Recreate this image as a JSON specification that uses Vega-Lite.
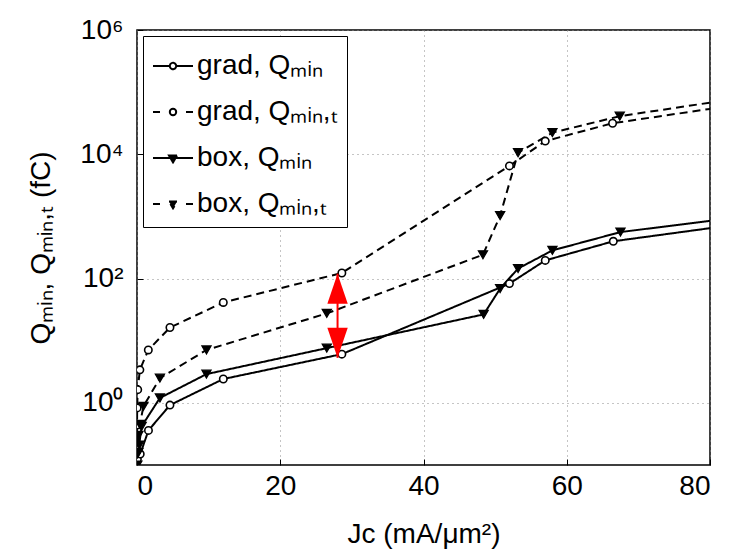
{
  "$schema": "https://vega.github.io/schema/vega-lite/v6.json",
  "width": 573,
  "height": 435,
  "autosize": {"type": "none"},
  "padding": {"left": 137, "top": 30, "right": 28, "bottom": 91},
  "config": {
    "font": "Liberation Sans",
    "view": {"stroke": "black", "strokeWidth": 1.5},
    "axis": {
      "labelFontSize": 28, "labelColor": "black", "labelFont": "Liberation Sans",
      "titleFontSize": 28, "titleFontWeight": "normal", "titleColor": "black", "titleFont": "Liberation Sans",
      "domain": false, "tickColor": "black", "tickSize": -6, "tickWidth": 1,
      "grid": true, "gridColor": "#8a8a8a", "gridDash": [1, 4], "gridWidth": 1
    }
  },
  "datasets": {
    "series": [
      {"s": "grad, Qₘᵢₙ", "k": "grad", "x": 0.0, "y": 0.09},
      {"s": "grad, Qₘᵢₙ", "k": "grad", "x": 0.05, "y": 0.124},
      {"s": "grad, Qₘᵢₙ", "k": "grad", "x": 0.45, "y": 0.15},
      {"s": "grad, Qₘᵢₙ", "k": "grad", "x": 1.6, "y": 0.36},
      {"s": "grad, Qₘᵢₙ", "k": "grad", "x": 4.6, "y": 0.92},
      {"s": "grad, Qₘᵢₙ", "k": "grad", "x": 12.05, "y": 2.42},
      {"s": "grad, Qₘᵢₙ", "k": "grad", "x": 28.6, "y": 6.08},
      {"s": "grad, Qₘᵢₙ", "k": "grad", "x": 52.0, "y": 83},
      {"s": "grad, Qₘᵢₙ", "k": "grad", "x": 57.0, "y": 196},
      {"s": "grad, Qₘᵢₙ", "k": "grad", "x": 66.5, "y": 398},
      {"s": "grad, Qₘᵢₙ", "k": "grad", "x": 90.0, "y": 927},
      {"s": "grad, Qₘᵢₙ,ₜ", "k": "grad", "x": 0.0, "y": 0.21},
      {"s": "grad, Qₘᵢₙ,ₜ", "k": "grad", "x": 0.01, "y": 0.44},
      {"s": "grad, Qₘᵢₙ,ₜ", "k": "grad", "x": 0.02, "y": 0.83},
      {"s": "grad, Qₘᵢₙ,ₜ", "k": "grad", "x": 0.1, "y": 1.63},
      {"s": "grad, Qₘᵢₙ,ₜ", "k": "grad", "x": 0.4, "y": 3.4},
      {"s": "grad, Qₘᵢₙ,ₜ", "k": "grad", "x": 1.58, "y": 7.1},
      {"s": "grad, Qₘᵢₙ,ₜ", "k": "grad", "x": 4.6, "y": 16.3},
      {"s": "grad, Qₘᵢₙ,ₜ", "k": "grad", "x": 12.05, "y": 41.3},
      {"s": "grad, Qₘᵢₙ,ₜ", "k": "grad", "x": 28.6, "y": 123},
      {"s": "grad, Qₘᵢₙ,ₜ", "k": "grad", "x": 52.0, "y": 6500},
      {"s": "grad, Qₘᵢₙ,ₜ", "k": "grad", "x": 57.0, "y": 16300},
      {"s": "grad, Qₘᵢₙ,ₜ", "k": "grad", "x": 66.4, "y": 31600},
      {"s": "grad, Qₘᵢₙ,ₜ", "k": "grad", "x": 90.0, "y": 79400},
      {"s": "box, Qₘᵢₙ", "k": "box", "x": 0.05, "y": 0.1},
      {"s": "box, Qₘᵢₙ", "k": "box", "x": 0.2, "y": 0.16},
      {"s": "box, Qₘᵢₙ", "k": "box", "x": 0.3, "y": 0.21},
      {"s": "box, Qₘᵢₙ", "k": "box", "x": 0.65, "y": 0.42},
      {"s": "box, Qₘᵢₙ", "k": "box", "x": 3.2, "y": 1.2},
      {"s": "box, Qₘᵢₙ", "k": "box", "x": 9.7, "y": 2.9},
      {"s": "box, Qₘᵢₙ", "k": "box", "x": 26.5, "y": 7.6},
      {"s": "box, Qₘᵢₙ", "k": "box", "x": 48.4, "y": 26.5},
      {"s": "box, Qₘᵢₙ", "k": "box", "x": 50.7, "y": 69},
      {"s": "box, Qₘᵢₙ", "k": "box", "x": 53.2, "y": 145},
      {"s": "box, Qₘᵢₙ", "k": "box", "x": 58.0, "y": 284},
      {"s": "box, Qₘᵢₙ", "k": "box", "x": 67.5, "y": 560},
      {"s": "box, Qₘᵢₙ", "k": "box", "x": 90.0, "y": 1186},
      {"s": "box, Qₘᵢₙ,ₜ", "k": "box", "x": 0.05, "y": 0.15},
      {"s": "box, Qₘᵢₙ,ₜ", "k": "box", "x": 0.2, "y": 0.3},
      {"s": "box, Qₘᵢₙ,ₜ", "k": "box", "x": 0.4, "y": 0.45},
      {"s": "box, Qₘᵢₙ,ₜ", "k": "box", "x": 0.9, "y": 0.88},
      {"s": "box, Qₘᵢₙ,ₜ", "k": "box", "x": 3.2, "y": 2.5},
      {"s": "box, Qₘᵢₙ,ₜ", "k": "box", "x": 9.7, "y": 7.1},
      {"s": "box, Qₘᵢₙ,ₜ", "k": "box", "x": 26.5, "y": 27.5},
      {"s": "box, Qₘᵢₙ,ₜ", "k": "box", "x": 48.3, "y": 242},
      {"s": "box, Qₘᵢₙ,ₜ", "k": "box", "x": 50.7, "y": 1030},
      {"s": "box, Qₘᵢₙ,ₜ", "k": "box", "x": 53.2, "y": 10600},
      {"s": "box, Qₘᵢₙ,ₜ", "k": "box", "x": 58.0, "y": 22300},
      {"s": "box, Qₘᵢₙ,ₜ", "k": "box", "x": 67.4, "y": 41000},
      {"s": "box, Qₘᵢₙ,ₜ", "k": "box", "x": 90.0, "y": 101000}
    ],
    "arrow": [
      {"x": 28.0, "top": 120, "bottom": 5.3}
    ],
    "threshold": [
      {"y": 37.4}
    ]
  },
  "encoding": {
    "x": {
      "field": "x", "type": "quantitative",
      "scale": {"domain": [0, 80], "nice": false},
      "axis": {"values": [0, 20, 40, 60, 80], "title": "Jᴄ (mA/μm²)", "labelPadding": 13, "titlePadding": 20}
    }
  },
  "layer": [
    {
      "data": {"name": "series"},
      "mark": {"type": "line", "clip": true, "strokeWidth": 2, "color": "black"},
      "encoding": {
        "y": {
          "field": "y", "type": "quantitative",
          "scale": {"type": "log", "domain": [0.1, 1000000], "nice": false},
          "axis": {
            "values": [1, 100, 10000, 1000000],
            "labelExpr": "datum.value == 1 ? '10⁰' : datum.value == 100 ? '10²' : datum.value == 10000 ? '10⁴' : '10⁶'",
            "title": "Qₘᵢₙ, Qₘᵢₙ,ₜ (fC)", "labelPadding": 20, "titlePadding": 24
          }
        },
        "strokeDash": {
          "field": "s", "type": "nominal",
          "scale": {"domain": ["grad, Qₘᵢₙ", "grad, Qₘᵢₙ,ₜ", "box, Qₘᵢₙ", "box, Qₘᵢₙ,ₜ"], "range": [[1, 0], [8, 5], [1, 0], [8, 5]]},
          "legend": {
            "title": null, "orient": "top-left", "offset": 6, "padding": 9,
            "fillColor": "white", "strokeColor": "black",
            "symbolSize": 1600, "symbolStrokeWidth": 2, "symbolStrokeColor": "black",
            "labelFontSize": 28, "labelFont": "Liberation Sans", "labelColor": "black",
            "rowPadding": 11, "labelOffset": 3, "labelLimit": 400,
            "encode": {
              "symbols": {
                "update": {
                  "shape": {"signal": "indexof(datum.value, 'grad') >= 0 ? (indexof(datum.value, ',ₜ') >= 0 ? 'M-1,0H-0.65M0.65,0H1M0.16,0A0.16,0.16,0,0,1,0,0.16M0,0.16A0.16,0.16,0,0,1,-0.16,0M-0.16,0A0.16,0.16,0,0,1,0,-0.16M0,-0.16A0.16,0.16,0,0,1,0.16,0' : 'M-1,0H-0.16M0.16,0H1M0.16,0A0.16,0.16,0,1,1,-0.16,0A0.16,0.16,0,1,1,0.16,0') : (indexof(datum.value, ',ₜ') >= 0 ? 'M-1,0H-0.65M0.65,0H1M-0.2,-0.12L0.2,-0.12L0,0.22Z' : 'M-1,0H1M-0.2,-0.12L0.2,-0.12L0,0.22Z')"},
                  "fill": {"signal": "indexof(datum.value, 'grad') >= 0 ? 'white' : 'black'"},
                  "stroke": {"value": "black"},
                  "strokeWidth": {"value": 2},
                  "opacity": {"value": 1}
                }
              }
            }
          }
        }
      }
    },
    {
      "data": {"name": "series"},
      "transform": [{"filter": {"field": "k", "equal": "grad"}}],
      "mark": {"type": "point", "clip": true, "shape": "circle", "size": 55, "stroke": "black", "fill": "white", "strokeWidth": 1.6, "opacity": 1, "filled": false},
      "encoding": {"y": {"field": "y", "type": "quantitative"}}
    },
    {
      "data": {"name": "series"},
      "transform": [{"filter": {"field": "k", "equal": "box"}}],
      "mark": {"type": "point", "clip": true, "shape": "triangle-down", "size": 85, "stroke": "black", "fill": "black", "strokeWidth": 1.2, "opacity": 1, "filled": true},
      "encoding": {"y": {"field": "y", "type": "quantitative"}}
    },
    {
      "data": {"name": "threshold"},
      "mark": {"type": "rule", "color": "black", "strokeWidth": 2, "strokeDash": [8, 5]},
      "encoding": {"y": {"field": "y", "type": "quantitative"}, "x": {"datum": 0}, "x2": {"datum": 80}}
    },
    {
      "data": {"name": "arrow"},
      "mark": {"type": "rule", "color": "red", "strokeWidth": 2},
      "encoding": {"y": {"field": "top", "type": "quantitative"}, "y2": {"field": "bottom"}}
    },
    {
      "data": {"name": "arrow"},
      "mark": {"type": "point", "filled": true, "color": "red", "opacity": 1, "size": 3600, "shape": "M0,0L0.34,1L-0.34,1Z"},
      "encoding": {"y": {"field": "top", "type": "quantitative"}}
    },
    {
      "data": {"name": "arrow"},
      "mark": {"type": "point", "filled": true, "color": "red", "opacity": 1, "size": 3600, "shape": "M0,0L0.34,-1L-0.34,-1Z"},
      "encoding": {"y": {"field": "bottom", "type": "quantitative"}}
    }
  ]
}
